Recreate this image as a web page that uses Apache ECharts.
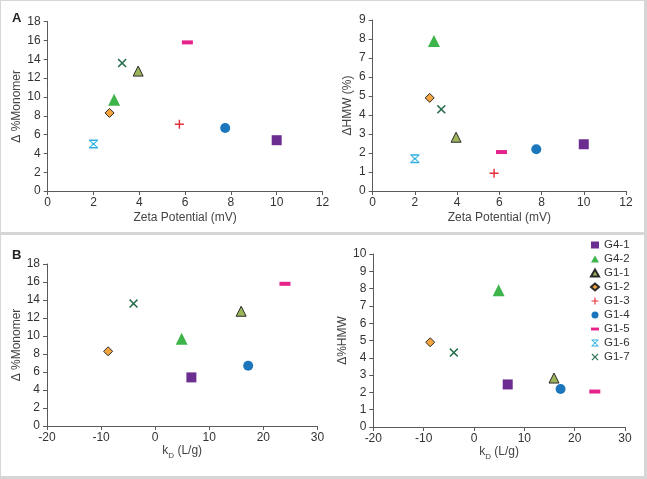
<!DOCTYPE html>
<html>
<head>
<meta charset="utf-8">
<script src="https://cdn.jsdelivr.net/npm/echarts@6/dist/echarts.min.js"></script>
<style>
html,body{margin:0;padding:0;background:#d6d6d6;}
#wrap{position:relative;width:647px;height:479px;overflow:hidden;}
.panel{position:absolute;background:#fff;}
#chart{position:absolute;left:0;top:0;width:647px;height:479px;}
</style>
</head>
<body>
<div id="wrap">
  <div class="panel" style="left:1px;top:1px;width:643px;height:231px;"></div>
  <div class="panel" style="left:1px;top:235px;width:643px;height:241px;"></div>
  <div id="chart"></div>
</div>
<script>
// ---- data ----
const groups  = ['G4-1','G4-2','G1-1','G1-2','G1-3','G1-4','G1-5','G1-6','G1-7'];
const zeta    = [10.0, 2.9, 3.95, 2.7, 5.75, 7.75, 6.1, 2.0, 3.25];
const monomer = [5.4, 9.7, 12.75, 8.3, 7.1, 6.7, 15.8, 5.0, 13.6];
const hmw     = [2.46, 7.9, 2.83, 4.9, 0.93, 2.2, 2.05, 1.7, 4.3];
const kd      = [6.7, 4.9, 15.9, -8.7, null, 17.2, 24.0, null, -4.0];

// ---- styles ----
const PX = 'path://M0,1.2L1.2,0L5,3.8L8.8,0L10,1.2L6.2,5L10,8.8L8.8,10L5,6.2L1.2,10L0,8.8L3.8,5Z';
const PPLUS = 'path://M4.2,0H5.8V4.2H10V5.8H5.8V10H4.2V5.8H0V4.2H4.2Z';
const PSTAR = 'path://M0,0H10V1.6H0Z M0,8.4H10V10H0Z M0.6,1.6L1.8,1.6L5,4.2L8.2,1.6L9.4,1.6L6.2,5L9.4,8.4L8.2,8.4L5,5.8L1.8,8.4L0.6,8.4L3.8,5Z';
const PDASH = 'path://M0,0H10V3.6H0Z';
const styles = [
  {symbol:'rect', size:10, color:'#6b2d90'},
  {symbol:'triangle', size:12, color:'#3db54a'},
  {symbol:'triangle', size:10, color:'#9cb55a', border:'#2a2a2a'},
  {symbol:'diamond', size:9, color:'#f3a540', border:'#2a2a2a'},
  {symbol:PPLUS, size:9, color:'#e2303c'},
  {symbol:'circle', size:10, color:'#1b76bc'},
  {symbol:PDASH, size:[11,4], color:'#e6238a'},
  {symbol:PSTAR, size:9, color:'#2fb0e2'},
  {symbol:PX, size:9, color:'#2a6f50'}
];
const legendIcons = ['rect','triangle','triangle','diamond',PPLUS,'circle','path://M0,3.2H10V6.8H0Z',PSTAR,PX];

const FONT = 'Liberation Sans, Arial, sans-serif';
const axisLine = {show:true, onZero:false, lineStyle:{color:'#5a5a5a', width:1}};
const axisTick = {show:true, inside:false, length:4, lineStyle:{color:'#5a5a5a'}};
const axisLabel = {color:'#333', fontSize:12, fontFamily:FONT, margin:6};
const nameStyle = {color:'#444', fontSize:12, fontFamily:FONT};

function xAx(gi, min, max, interval, name, gap, rich){
  return {type:'value', gridIndex:gi, min, max, interval, name, nameLocation:'middle', nameGap:gap,
    nameTextStyle: Object.assign({}, nameStyle, rich ? {rich} : {}),
    axisLine, axisTick, axisLabel, splitLine:{show:false}};
}
function yAx(gi, min, max, interval, name, gap){
  return {type:'value', gridIndex:gi, min, max, interval, name, nameLocation:'middle', nameGap:gap,
    nameTextStyle:nameStyle, axisLine, axisTick, axisLabel:Object.assign({}, axisLabel, {margin:7}), splitLine:{show:false}};
}
const subRich = {
  n:{fontSize:12, color:'#444', fontFamily:FONT, lineHeight:14},
  s:{fontSize:8, color:'#444', fontFamily:FONT, verticalAlign:'bottom', lineHeight:17}
};

const series = [];
const panels = [
  {xs:zeta, ys:monomer},
  {xs:zeta, ys:hmw},
  {xs:kd, ys:monomer},
  {xs:kd, ys:hmw}
];
panels.forEach((p, pi) => {
  groups.forEach((g, i) => {
    if (p.xs[i] == null) return;
    const st = styles[i];
    series.push({
      type:'scatter', name:g, xAxisIndex:pi, yAxisIndex:pi,
      symbol:st.symbol, symbolSize:st.size,
      itemStyle:{color:st.color, borderColor:st.border || st.color, borderWidth: st.border ? 1 : 0, opacity:1},
      data:[[p.xs[i], p.ys[i]]],
      emphasis:{disabled:true}
    });
  });
});

const chart = echarts.init(document.getElementById('chart'), null, {renderer:'canvas'});
chart.setOption({
  animation:false,
  textStyle:{fontFamily:FONT},
  grid:[
    {left:47.7, top:21.7, width:274.8, height:169.3},
    {left:372.7, top:20, width:253.3, height:171},
    {left:47, top:264, width:270.4, height:162},
    {left:373.3, top:254, width:251.7, height:173}
  ],
  xAxis:[
    xAx(0, 0, 12, 2, 'Zeta Potential (mV)', 21),
    xAx(1, 0, 12, 2, 'Zeta Potential (mV)', 21),
    xAx(2, -20, 30, 10, '{n|k}{s|D}{n| (L/g)}', 15, subRich),
    xAx(3, -20, 30, 10, '{n|k}{s|D}{n| (L/g)}', 16, subRich)
  ],
  yAxis:[
    yAx(0, 0, 18, 2, 'Δ %Monomer', 25),
    yAx(1, 0, 9, 1, 'ΔHMW (%)', 19),
    yAx(2, 0, 18, 2, 'Δ %Monomer', 24),
    yAx(3, 0, 10, 1, 'Δ%HMW', 19)
  ],
  legend:{
    orient:'vertical', left:590, top:239, padding:0, itemWidth:8, itemHeight:7, itemGap:2,
    textStyle:{color:'#333', fontSize:11.5, fontFamily:FONT, lineHeight:11.3},
    data: groups.map((g,i)=>({name:g, icon:legendIcons[i]})),
    selectedMode:false
  },
  graphic:[
    {type:'text', left:12, top:12, style:{text:'A', font:'bold 13px Liberation Sans, Arial, sans-serif', fill:'#222'}},
    {type:'text', left:12, top:249, style:{text:'B', font:'bold 13px Liberation Sans, Arial, sans-serif', fill:'#222'}}
  ],
  series
});
</script>
</body>
</html>
